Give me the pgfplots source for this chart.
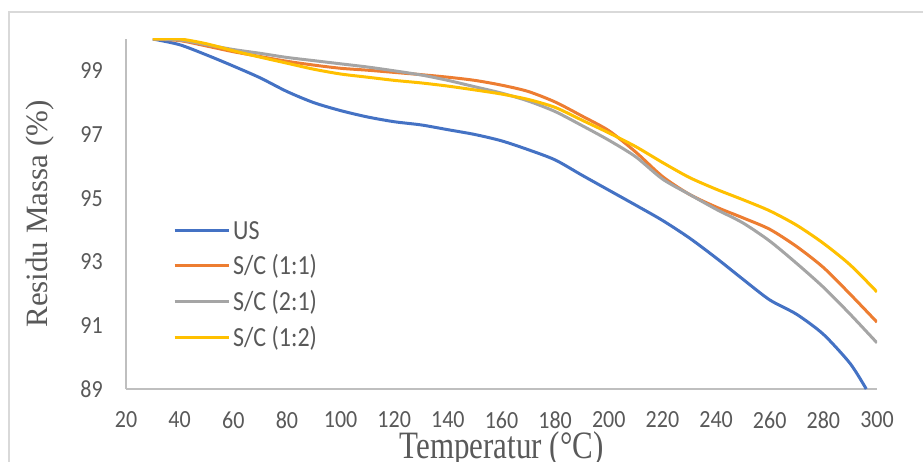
\documentclass[border=0pt]{standalone}
\usepackage{fontspec}
\setmainfont{Carlito}
\newfontfamily\timesf{Liberation Serif}
\usepackage{graphicx}
\usepackage{pgfplots}
\pgfplotsset{compat=1.18}

\definecolor{usblue}{HTML}{4472C4}
\definecolor{scorange}{HTML}{ED7D31}
\definecolor{scgray}{HTML}{A5A5A5}
\definecolor{scyellow}{HTML}{FFC000}
\definecolor{txtgray}{HTML}{595959}
\definecolor{axgray}{HTML}{BFBFBF}
\definecolor{framegray}{HTML}{D9D9D9}

\newcommand{\tall}[2][1.15]{\scalebox{1}[#1]{#2}}

\begin{document}
\begin{tikzpicture}
\useasboundingbox (-126pt,-72pt) rectangle (797pt,389pt);
\draw[framegray, line width=1.5pt] (-117pt,-100pt) -- (-117pt,377pt) -- (900pt,377pt);

\begin{axis}[
    scale only axis,
    width=751pt, height=350pt,
    xmin=20, xmax=300, ymin=89, ymax=100,
    xtick={20,40,...,300},
    ytick={89,91,...,99},
    axis x line*=bottom, axis y line*=left,
    axis line style={-, draw=axgray, line width=1.5pt},
    major tick length=0pt,
    /pgf/number format/assume math mode=true,
    tick label style={font=\fontsize{22}{24}\selectfont, text=txtgray, inner sep=0pt},
    xticklabel={\tall[1.12]{\pgfmathprintnumber{\tick}}},
    yticklabel={\tall[1.12]{\pgfmathprintnumber{\tick}}},
    xticklabel style={anchor=center, yshift=-31pt},
    yticklabel style={anchor=east, xshift=-23pt},
    xlabel={\tall[1.25]{Temperatur (°C)}},
    ylabel={Residu Massa (\%)},
    label style={font=\timesf\fontsize{31}{34}\selectfont, text=txtgray},
    xlabel style={at={(axis description cs:0.5,0)}, anchor=base, yshift=-69pt},
    ylabel style={at={(axis description cs:-0.115,0.5)}, anchor=center},
    legend cell align=left,
    legend style={at={(axis cs:37.5,94.28)}, anchor=north west, draw=none, fill=none,
        inner sep=0pt, row sep=17.6pt, column sep=3pt,
        font=\fontsize{24}{26}\selectfont, text=txtgray,
        nodes={text height=18pt, text depth=0pt, inner sep=0pt}},
    legend image code/.code={\draw[#1] (0pt,0pt) -- (54pt,0pt);},
    every axis plot/.append style={line width=3pt, smooth, tension=0.45},
    clip=true,
]

% US
\addplot[usblue] coordinates {
(30,100) (40,99.82) (50,99.5) (60,99.15) (70,98.78) (80,98.35) (90,98.0)
(100,97.75) (110,97.55) (120,97.4) (130,97.3) (140,97.15) (150,97.0)
(160,96.8) (170,96.52) (180,96.2) (190,95.72) (200,95.25) (210,94.78)
(220,94.3) (230,93.75) (240,93.12) (250,92.45) (260,91.8) (270,91.35)
(280,90.72) (290,89.8) (296,89.0)
};
\addlegendentry{\tall{US}}

% S/C (1:1)
\addplot[scorange] coordinates {
(30,100) (40,99.95) (50,99.78) (60,99.6) (70,99.45) (80,99.3) (90,99.18)
(100,99.08) (110,99.02) (120,98.95) (130,98.88) (140,98.8) (150,98.7)
(160,98.55) (170,98.35) (180,98.02) (190,97.58) (200,97.12) (210,96.45)
(220,95.68) (230,95.12) (240,94.72) (250,94.38) (260,94.02) (270,93.48)
(280,92.82) (290,91.98) (300,91.1)
};
\addlegendentry{\tall{S/C (1:1)}}

% S/C (2:1)
\addplot[scgray] coordinates {
(30,100) (40,99.97) (50,99.82) (60,99.67) (70,99.55) (80,99.42) (90,99.32)
(100,99.22) (110,99.12) (120,99.0) (130,98.87) (140,98.7) (150,98.5)
(160,98.3) (170,98.05) (180,97.72) (190,97.28) (200,96.82) (210,96.3)
(220,95.6) (230,95.12) (240,94.65) (250,94.22) (260,93.65) (270,92.95)
(280,92.2) (290,91.35) (300,90.45)
};
\addlegendentry{\tall{S/C (2:1)}}

% S/C (1:2)
\addplot[scyellow] coordinates {
(30,100) (40,100) (50,99.85) (60,99.63) (70,99.43) (80,99.24) (90,99.05)
(100,98.9) (110,98.8) (120,98.7) (130,98.62) (140,98.52) (150,98.4)
(160,98.27) (170,98.1) (180,97.85) (190,97.45) (200,97.05) (210,96.62)
(220,96.12) (230,95.65) (240,95.28) (250,94.95) (260,94.6) (270,94.15)
(280,93.58) (290,92.9) (300,92.05)
};
\addlegendentry{\tall{S/C (1:2)}}

\end{axis}
\end{tikzpicture}
\end{document}
